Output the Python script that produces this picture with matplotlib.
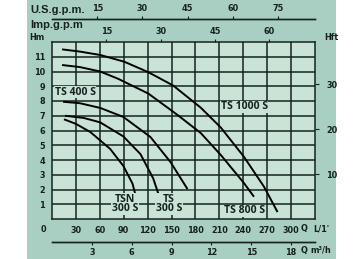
import matplotlib
matplotlib.use("Agg")
import matplotlib.pyplot as plt
from matplotlib.patches import Rectangle

# curves Q (L/min) vs H (m)
ts1000_q = [12.6, 35, 60.5, 90.8, 121, 152, 186.6, 211.8, 240.8, 266, 283]
ts1000_h = [11.5, 11.35, 11.12, 10.66, 9.95, 9.05, 7.55, 6.2, 4.22, 2.19, 0.47]

ts800_q = [12.6, 35, 60.5, 83.2, 121, 157.6, 186.6, 211.8, 240.8, 253.4]
ts800_h = [10.44, 10.3, 10.0, 9.5, 8.5, 7.05, 5.83, 4.34, 2.44, 1.51]

ts400_q = [13.9, 35, 60.5, 89.5, 123.5, 148.7, 170]
ts400_h = [7.95, 7.85, 7.53, 6.92, 5.56, 3.86, 2.03]

ts300_q = [16.4, 40, 60.5, 89.5, 111, 127, 136]
ts300_h = [7.0, 6.85, 6.55, 5.6, 4.4, 2.75, 1.3]

tsn300_q = [15, 30, 48, 73, 89.5, 101, 107]
tsn300_h = [6.76, 6.45, 5.9, 4.75, 3.6, 2.4, 1.17]

curve_labels = ["TS 1000 S", "TS 800 S", "TS 400 S", "TS\n300 S", "TSN\n300 S"]
label_q = [241, 242, 29, 147, 91.5]
label_h = [7.6, 0.55, 8.6, 1.0, 1.0]

q_ticks = [30, 60, 90, 120, 150, 180, 210, 240, 270, 300]
h_ticks = [1, 2, 3, 4, 5, 6, 7, 8, 9, 10, 11]
ft_ticks = [10, 20, 30]
imp_ticks = [15, 30, 45, 60]
us_ticks = [15, 30, 45, 60, 75]
m3h_ticks = [3, 6, 9, 12, 15, 18]

W, H = 363, 259
panel = "#a9cfc2"
plot_bg = "#c9e3d7"
ink = "#16221f"
NUM = dict(family="DejaVu Sans", stretch="condensed", weight="bold", size=6.5)

fig = plt.figure(figsize=(W / 100, H / 100), dpi=100)
fig.patch.set_facecolor("white")
fig.add_artist(Rectangle((27 / W, 0), 309 / W, 1, transform=fig.transFigure,
                         facecolor=panel, edgecolor="none", zorder=0))

ax = fig.add_axes([52 / W, 1 - 219 / H, 263 / W, 177 / H])
ax.set_facecolor(plot_bg)
ax.set_xlim(0, 330)
ax.set_ylim(0, 12)
ax.set_xticks(q_ticks)
ax.set_yticks(h_ticks)
ax.grid(True, color=ink, lw=1.1)
ax.tick_params(length=0, colors=ink, pad=5)
for sp in ax.spines.values():
    sp.set_color(ink)
    sp.set_linewidth(1.1)

def style_labels(labels):
    for lab in labels:
        lab.set_fontproperties(NUM)

style_labels(ax.get_xticklabels() + ax.get_yticklabels())

for q, h in [(ts1000_q, ts1000_h), (ts800_q, ts800_h), (ts400_q, ts400_h),
             (ts300_q, ts300_h), (tsn300_q, tsn300_h)]:
    ax.plot(q, h, color="black", lw=1.4, solid_capstyle="butt", zorder=3)

for txt, x, y in zip(curve_labels, label_q, label_h):
    ax.text(x, y, txt, ha="center", va="center", fontsize=7.5,
            fontweight="bold", color=ink, linespacing=0.8, zorder=4,
            family=["Open Sans", "DejaVu Sans"],
            bbox=dict(facecolor=plot_bg, edgecolor="none", pad=0.6))

# right axis in feet
ft = ax.twinx()
ft.set_ylim(0, 12 * 3.2808)
ft.set_yticks(ft_ticks)
ft.tick_params(length=3, width=0.8, colors=ink, pad=5)
for sp in ft.spines.values():
    sp.set_visible(False)
style_labels(ft.get_yticklabels())

def add_sec(loc, factor, ticks, pad, spine_on):
    sec = ax.secondary_xaxis(loc, functions=(lambda q: q / factor, lambda g: g * factor))
    sec.set_xticks(ticks)
    sec.tick_params(length=2.5, width=0.8, colors=ink, pad=pad)
    style_labels(sec.get_xticklabels())
    for sp in sec.spines.values():
        sp.set_color(ink)
        sp.set_linewidth(1.0)
        sp.set_visible(spine_on)
    return sec

add_sec("top", 4.546, imp_ticks, 1.5, False)
add_sec((219 - 19) / 177, 3.785, us_ticks, 1.5, True)
add_sec(-(242 - 219) / 177, 1 / 0.06, m3h_ticks, 2, True)

def ftext(x, y, s, props, ha="center"):
    fig.text(x / W, 1 - y / H, s, ha=ha, va="center", color=ink,
             fontproperties=props)

LAB = dict(family="Liberation Sans", weight="bold", size=8)
ftext(30, 10, "U.S.g.p.m.", LAB, "left")
ftext(30, 25, "Imp.g.p.m", LAB, "left")
ftext(37, 38, "Hm", NUM)
ftext(331, 38, "Hft", NUM)
ftext(43, 229, "0", NUM)
ftext(304, 229, "Q", NUM)
ftext(321, 229, "L/1'", NUM)
ftext(304, 250, "Q", NUM)
ftext(321, 250, "m³/h", NUM)

fig.savefig("out.png", dpi=100)
